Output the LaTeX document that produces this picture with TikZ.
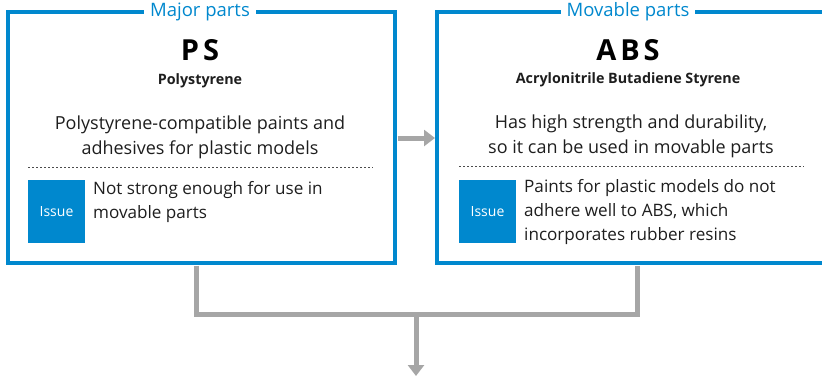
\documentclass[tikz,border=0pt]{standalone}
\usepackage{fontspec}
\setmainfont{Open Sans}
\usetikzlibrary{arrows.meta}
\definecolor{brand}{RGB}{0,136,206}
\definecolor{conn}{RGB}{166,166,166}
\definecolor{txt}{RGB}{30,30,30}
\begin{document}
\begin{tikzpicture}[x=1pt,y=-1pt,
  panel/.style={draw=brand,line width=4.5pt,minimum width=387pt,minimum height=251pt,inner sep=0pt,outer sep=0pt},
  paneltitle/.style={fill=white,text=brand,inner xsep=6pt,inner ysep=2pt,font=\fontsize{18.5}{22}\selectfont},
  bigname/.style={font=\fontsize{29}{32}\selectfont\bfseries,text=black},
  subname/.style={font=\fontsize{14.3}{16}\selectfont\bfseries,text=txt},
  body/.style={font=\fontsize{18}{25}\selectfont,text=txt,align=center,inner sep=0pt},
  issuebox/.style={fill=brand,text=white,minimum width=57pt,minimum height=63pt,inner sep=0pt,font=\fontsize{14}{16}\selectfont},
  issuetext/.style={font=\fontsize{17.1}{24}\selectfont,text=txt,align=left,anchor=north west,inner sep=0pt},
  sep/.style={draw=txt!80,line width=1pt,dash pattern=on 2pt off 2pt},
  connector/.style={draw=conn,line width=5pt},
  arrowconn/.style={connector,-{Triangle[length=11pt,width=16pt]}}
]
\useasboundingbox (0,0) rectangle (822,375);
\clip (0,0) rectangle (822,375);
% panels
\node[panel] (L) at (201.5,137.5) {};
\node[panel] (R) at (630.5,137.5) {};
\node[paneltitle] (Lt) at (200,12) {Major parts};
\node[paneltitle] (Rt) at (628,12) {Movable parts};
% left content
\node[bigname] (ps) at (200,50) {P\kern4pt S};
\node[subname] (psn) at (200,81) {Polystyrene};
\node[body] (lbody) at (200,137) {Polystyrene-compatible paints and\\adhesives for plastic models};
\coordinate (ld1) at (28,167);
\coordinate (ld2) at (373,167);
\draw[sep] (ld1) -- (ld2);
\node[issuebox] (li) at (56.5,211.5) {Issue};
\node[issuetext] (lit) at (93,181) {Not strong enough for use in\\movable parts};
% right content
\node[bigname] (abs) at (628,50) {A\kern4pt B\kern4pt S};
\node[subname] (absn) at (628,80) {Acrylonitrile Butadiene Styrene};
\node[body] (rbody) at (631,136) {Has high strength and durability,\\so it can be used in movable parts};
\coordinate (rd1) at (459,166);
\coordinate (rd2) at (804,166);
\draw[sep] (rd1) -- (rd2);
\node[issuebox] (ri) at (487.5,211.5) {Issue};
\node[issuetext] (rit) at (524,179) {Paints for plastic models do not\\adhere well to ABS, which\\incorporates rubber resins};
% connectors
\coordinate (la) at (397.5,138);
\coordinate (ra) at (435,138);
\draw[arrowconn] (la) -- (ra);
\coordinate (lb) at (196,265.5);
\coordinate (rb) at (637,265.5);
\coordinate (lj) at (196,314);
\coordinate (rj) at (637,314);
\coordinate (mj) at (416,314);
\coordinate (out) at (416,376);
\draw[connector,line join=miter] (lb) -- (lj) -- (rj) -- (rb);
\draw[arrowconn] (mj) -- (out);
\end{tikzpicture}
\end{document}
